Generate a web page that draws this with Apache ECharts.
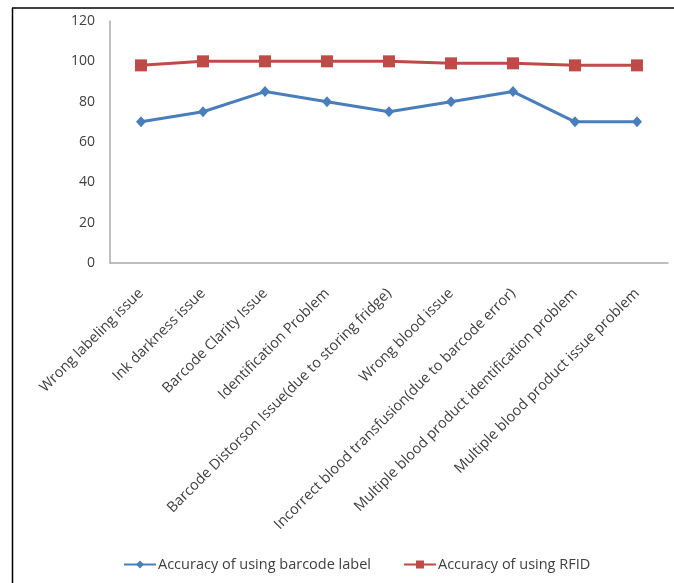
<!DOCTYPE html>
<html>
<head>
<meta charset="utf-8">
<script src="https://cdn.jsdelivr.net/npm/echarts@6/dist/echarts.min.js"></script>
<style>
html,body{margin:0;padding:0;background:#fff;}
#c{width:674px;height:583px;}
</style>
</head>
<body>
<div id="c"></div>
<script>
var categories = [
  "Wrong labeling issue",
  "Ink darkness issue",
  "Barcode Clarity Issue",
  "Identification Problem",
  "Barcode Distorson Issue(due to storing fridge)",
  "Wrong blood issue",
  "Incorrect blood transfusion(due to barcode error)",
  "Multiple blood product identification problem",
  "Multiple blood product issue problem"
];
var barcodeAccuracy = [70, 75, 85, 80, 75, 80, 85, 70, 70];
var rfidAccuracy = [98, 100, 100, 100, 100, 99, 99, 98, 98];
var yTicks = [0, 20, 40, 60, 80, 100, 120];
var seriesNames = ["Accuracy of using barcode label", "Accuracy of using RFID"];

var FONT = "Open Sans";
var chart = echarts.init(document.getElementById('c'), null, {renderer: 'canvas'});
chart.setOption({
  animation: false,
  backgroundColor: '#fff',
  grid: {left: 110, right: 6, top: 21, bottom: 320, containLabel: false},
  legend: {
    bottom: 6,
    left: 118,
    itemWidth: 32,
    itemHeight: 10,
    itemGap: 32,
    textStyle: {fontFamily: FONT, fontSize: 14.5, color: '#404040', padding: [0, 0, 0, -3]},
    data: seriesNames
  },
  xAxis: {
    type: 'category',
    data: categories,
    boundaryGap: true,
    axisLine: {lineStyle: {color: '#ababab', width: 1.5}},
    axisTick: {show: false},
    axisLabel: {
      interval: 0,
      rotate: 45,
      margin: 28,
      fontFamily: FONT,
      fontSize: 14.5,
      color: '#404040'
    },
    splitLine: {show: false}
  },
  yAxis: {
    type: 'value',
    min: yTicks[0],
    max: yTicks[yTicks.length - 1],
    interval: yTicks[1] - yTicks[0],
    axisLine: {show: true, lineStyle: {color: '#ababab', width: 1.5}},
    axisTick: {show: false},
    axisLabel: {margin: 15, fontFamily: FONT, fontSize: 14, color: '#404040'},
    splitLine: {show: false}
  },
  series: [
    {
      name: seriesNames[0],
      type: 'line',
      data: barcodeAccuracy,
      symbol: 'diamond',
      symbolSize: [10, 11],
      lineStyle: {color: '#4a7ebb', width: 3},
      itemStyle: {color: '#4a7ebb'}
    },
    {
      name: seriesNames[1],
      type: 'line',
      data: rfidAccuracy,
      symbol: 'rect',
      symbolSize: 12,
      lineStyle: {color: '#be4b48', width: 3},
      itemStyle: {color: '#be4b48'}
    }
  ],
  graphic: [
    {type: 'line', shape: {x1: 12, y1: 8, x2: 674, y2: 8}, style: {stroke: '#000', lineWidth: 1.5}, silent: true},
    {type: 'line', shape: {x1: 12.5, y1: 8, x2: 12.5, y2: 583}, style: {stroke: '#000', lineWidth: 1.5}, silent: true}
  ]
});
</script>
</body>
</html>
